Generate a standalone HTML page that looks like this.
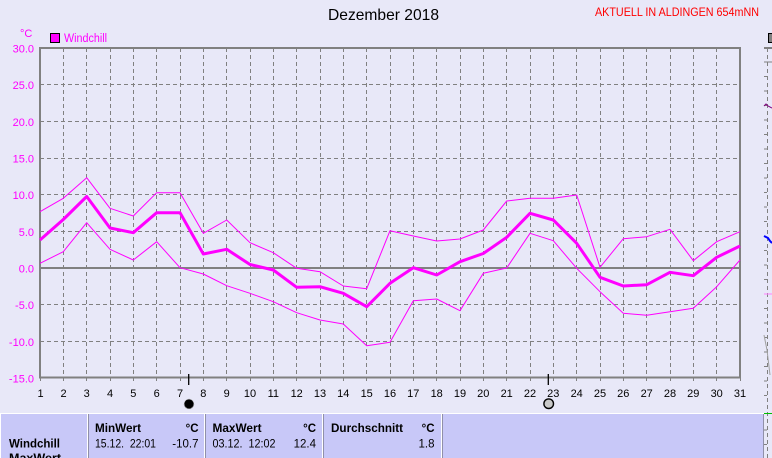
<!DOCTYPE html>
<html><head><meta charset="utf-8"><style>
html,body{margin:0;padding:0;background:#e8e8f8;}
svg{display:block;}
text{font-family:"Liberation Sans",sans-serif;}
</style></head><body>
<svg width="772" height="458" viewBox="0 0 772 458" xmlns="http://www.w3.org/2000/svg">
<rect x="0" y="0" width="772" height="458" fill="#e8e8f8"/>

<!-- title -->
<text x="328" y="20" font-size="16" textLength="111" lengthAdjust="spacingAndGlyphs" fill="#000">Dezember 2018</text>
<text x="595" y="16" font-size="12" textLength="164" lengthAdjust="spacingAndGlyphs" fill="#ff0000">AKTUELL IN ALDINGEN 654mNN</text>

<!-- unit + legend -->
<text x="20" y="37" font-size="11" fill="#ff00ff">°C</text>
<rect x="50.5" y="33.5" width="9" height="9" fill="#ff00ff" stroke="#000" stroke-width="1"/>
<text x="64" y="42" font-size="11.5" textLength="43" lengthAdjust="spacingAndGlyphs" fill="#ff00ff">Windchill</text>

<!-- grid -->
<g stroke="#808080" stroke-width="1" stroke-dasharray="4,3" shape-rendering="crispEdges">
<line x1="40" y1="84.5" x2="740" y2="84.5"/>
<line x1="40" y1="121.5" x2="740" y2="121.5"/>
<line x1="40" y1="158.5" x2="740" y2="158.5"/>
<line x1="40" y1="194.5" x2="740" y2="194.5"/>
<line x1="40" y1="231.5" x2="740" y2="231.5"/>
<line x1="40" y1="304.5" x2="740" y2="304.5"/>
<line x1="40" y1="341.5" x2="740" y2="341.5"/>
<line x1="63.5" y1="48" x2="63.5" y2="377"/>
<line x1="86.5" y1="48" x2="86.5" y2="377"/>
<line x1="110.5" y1="48" x2="110.5" y2="377"/>
<line x1="133.5" y1="48" x2="133.5" y2="377"/>
<line x1="156.5" y1="48" x2="156.5" y2="377"/>
<line x1="180.5" y1="48" x2="180.5" y2="377"/>
<line x1="203.5" y1="48" x2="203.5" y2="377"/>
<line x1="226.5" y1="48" x2="226.5" y2="377"/>
<line x1="250.5" y1="48" x2="250.5" y2="377"/>
<line x1="273.5" y1="48" x2="273.5" y2="377"/>
<line x1="296.5" y1="48" x2="296.5" y2="377"/>
<line x1="320.5" y1="48" x2="320.5" y2="377"/>
<line x1="343.5" y1="48" x2="343.5" y2="377"/>
<line x1="366.5" y1="48" x2="366.5" y2="377"/>
<line x1="390.5" y1="48" x2="390.5" y2="377"/>
<line x1="413.5" y1="48" x2="413.5" y2="377"/>
<line x1="436.5" y1="48" x2="436.5" y2="377"/>
<line x1="460.5" y1="48" x2="460.5" y2="377"/>
<line x1="483.5" y1="48" x2="483.5" y2="377"/>
<line x1="506.5" y1="48" x2="506.5" y2="377"/>
<line x1="530.5" y1="48" x2="530.5" y2="377"/>
<line x1="553.5" y1="48" x2="553.5" y2="377"/>
<line x1="576.5" y1="48" x2="576.5" y2="377"/>
<line x1="600.5" y1="48" x2="600.5" y2="377"/>
<line x1="623.5" y1="48" x2="623.5" y2="377"/>
<line x1="646.5" y1="48" x2="646.5" y2="377"/>
<line x1="670.5" y1="48" x2="670.5" y2="377"/>
<line x1="693.5" y1="48" x2="693.5" y2="377"/>
<line x1="716.5" y1="48" x2="716.5" y2="377"/>
</g>

<!-- zero line + frame -->
<g stroke="#808080" shape-rendering="crispEdges">
<line x1="40" y1="268" x2="740" y2="268" stroke-width="2"/>
<rect x="40" y="48" width="700" height="329.5" fill="none" stroke-width="2"/>
</g>
<!-- x ticks -->
<g stroke="#808080" stroke-width="1" shape-rendering="crispEdges">
<line x1="40.5" y1="378" x2="40.5" y2="381"/><line x1="63.5" y1="378" x2="63.5" y2="381"/><line x1="86.5" y1="378" x2="86.5" y2="381"/><line x1="110.5" y1="378" x2="110.5" y2="381"/><line x1="133.5" y1="378" x2="133.5" y2="381"/><line x1="156.5" y1="378" x2="156.5" y2="381"/><line x1="180.5" y1="378" x2="180.5" y2="381"/><line x1="203.5" y1="378" x2="203.5" y2="381"/><line x1="226.5" y1="378" x2="226.5" y2="381"/><line x1="250.5" y1="378" x2="250.5" y2="381"/><line x1="273.5" y1="378" x2="273.5" y2="381"/><line x1="296.5" y1="378" x2="296.5" y2="381"/><line x1="320.5" y1="378" x2="320.5" y2="381"/><line x1="343.5" y1="378" x2="343.5" y2="381"/><line x1="366.5" y1="378" x2="366.5" y2="381"/><line x1="390.5" y1="378" x2="390.5" y2="381"/><line x1="413.5" y1="378" x2="413.5" y2="381"/><line x1="436.5" y1="378" x2="436.5" y2="381"/><line x1="460.5" y1="378" x2="460.5" y2="381"/><line x1="483.5" y1="378" x2="483.5" y2="381"/><line x1="506.5" y1="378" x2="506.5" y2="381"/><line x1="530.5" y1="378" x2="530.5" y2="381"/><line x1="553.5" y1="378" x2="553.5" y2="381"/><line x1="576.5" y1="378" x2="576.5" y2="381"/><line x1="600.5" y1="378" x2="600.5" y2="381"/><line x1="623.5" y1="378" x2="623.5" y2="381"/><line x1="646.5" y1="378" x2="646.5" y2="381"/><line x1="670.5" y1="378" x2="670.5" y2="381"/><line x1="693.5" y1="378" x2="693.5" y2="381"/><line x1="716.5" y1="378" x2="716.5" y2="381"/><line x1="740.5" y1="378" x2="740.5" y2="381"/>
</g>

<!-- y labels -->
<g font-size="11" fill="#ff00ff" text-anchor="end">
<text x="34" y="52.5">30.0</text>
<text x="34" y="89">25.0</text>
<text x="34" y="126">20.0</text>
<text x="34" y="162.5">15.0</text>
<text x="34" y="199">10.0</text>
<text x="34" y="236">5.0</text>
<text x="34" y="272.5">0.0</text>
<text x="34" y="309">-5.0</text>
<text x="34" y="346">-10.0</text>
<text x="34" y="382.5">-15.0</text>
</g>

<!-- x labels -->
<g font-size="11" fill="#000" text-anchor="middle">
<text x="40.5" y="397">1</text><text x="63.5" y="397">2</text><text x="86.7" y="397">3</text><text x="110" y="397">4</text><text x="133.3" y="397">5</text><text x="156.7" y="397">6</text><text x="180" y="397">7</text><text x="203.3" y="397">8</text><text x="226.7" y="397">9</text><text x="250" y="397">10</text><text x="273.3" y="397">11</text><text x="296.7" y="397">12</text><text x="320" y="397">13</text><text x="343.3" y="397">14</text><text x="366.7" y="397">15</text><text x="390" y="397">16</text><text x="413.3" y="397">17</text><text x="436.7" y="397">18</text><text x="460" y="397">19</text><text x="483.3" y="397">20</text><text x="506.7" y="397">21</text><text x="530" y="397">22</text><text x="553.3" y="397">23</text><text x="576.7" y="397">24</text><text x="600" y="397">25</text><text x="623.3" y="397">26</text><text x="646.7" y="397">27</text><text x="670" y="397">28</text><text x="693.3" y="397">29</text><text x="716.7" y="397">30</text><text x="740" y="397">31</text>
</g>

<!-- series -->
<g fill="none" stroke="#ff00ff" stroke-linejoin="round">
<polyline stroke-width="1" points="40,211.7 63.3,198.3 86.7,177.7 110,208.3 133.3,216 156.7,192.7 180,192.7 203.3,233.3 226.7,220 250,242.7 273.3,252.7 296.7,268.3 320,271.7 343.3,286 366.7,288.7 390,230.7 413.3,236 436.7,241 460,239 483.3,230 506.7,201 530,198.3 553.3,198.3 576.7,195 600,267.3 623.3,238.7 646.7,236.7 670,229.3 693.3,260.7 716.7,241.7 740,231.7"/>
<polyline stroke-width="1" points="40,263.3 63.3,251.7 86.7,222.7 110,249.3 133.3,260 156.7,241.7 180,267.7 203.3,274 226.7,285.7 250,293.3 273.3,301.7 296.7,312.7 320,320 343.3,324 366.7,345.7 390,342.3 413.3,300.7 436.7,299 460,310.7 483.3,273.3 506.7,268 530,233.3 553.3,240.7 576.7,268.3 600,291.7 623.3,313.3 646.7,315.3 670,311.7 693.3,308.3 716.7,286.7 740,260"/>
<polyline stroke-width="3" points="40,240 63.3,219.5 86.7,196.5 110,228 133.3,232.7 156.7,212.7 180,212.7 203.3,254 226.7,249.3 250,264.5 273.3,270 296.7,287.3 320,286.7 343.3,293.3 366.7,306.7 390,283.3 413.3,267.7 436.7,275 460,261.7 483.3,253.5 506.7,237.3 530,213.3 553.3,220 576.7,243.3 600,277.3 623.3,286 646.7,284.7 670,272.3 693.3,275.7 716.7,257.3 740,246"/>
</g>

<!-- moon markers -->
<line x1="188.7" y1="374" x2="188.7" y2="385" stroke="#000" stroke-width="1.3"/>
<circle cx="189" cy="404" r="4.8" fill="#000" stroke="#999" stroke-width="0.8" stroke-dasharray="1,1"/>
<line x1="548.3" y1="374" x2="548.3" y2="385" stroke="#000" stroke-width="1.3"/>
<circle cx="548.7" cy="403.7" r="4.8" fill="#c8c8c8" stroke="#000" stroke-width="1.4"/>

<!-- right partial chart -->
<rect x="768.5" y="33.5" width="4" height="9" fill="#808080" stroke="#000" stroke-width="1"/>
<line x1="764" y1="48" x2="772" y2="48" stroke="#808080" stroke-width="2"/>
<line x1="767.5" y1="48" x2="767.5" y2="458" stroke="#808080" stroke-width="1" stroke-dasharray="4,3"/>
<g stroke="#808080" stroke-width="1" shape-rendering="crispEdges">
<line x1="764" y1="62" x2="772" y2="62"/>
<line x1="764" y1="76.5" x2="767" y2="76.5"/><line x1="764" y1="91" x2="767" y2="91"/><line x1="764" y1="105.5" x2="767" y2="105.5"/><line x1="764" y1="120" x2="767" y2="120"/><line x1="764" y1="134.5" x2="767" y2="134.5"/><line x1="764" y1="149" x2="767" y2="149"/><line x1="764" y1="163.5" x2="767" y2="163.5"/><line x1="764" y1="178" x2="767" y2="178"/><line x1="764" y1="192.5" x2="767" y2="192.5"/><line x1="764" y1="207" x2="767" y2="207"/><line x1="764" y1="221.5" x2="767" y2="221.5"/><line x1="764" y1="250.5" x2="767" y2="250.5"/><line x1="764" y1="265" x2="767" y2="265"/><line x1="764" y1="279.5" x2="767" y2="279.5"/><line x1="764" y1="308.5" x2="767" y2="308.5"/><line x1="764" y1="323" x2="767" y2="323"/><line x1="764" y1="337.5" x2="767" y2="337.5"/><line x1="764" y1="352" x2="767" y2="352"/><line x1="764" y1="366.5" x2="767" y2="366.5"/><line x1="764" y1="381" x2="767" y2="381"/><line x1="764" y1="395.5" x2="767" y2="395.5"/><line x1="764" y1="430" x2="767" y2="430"/><line x1="764" y1="444.5" x2="767" y2="444.5"/>
</g>
<polyline points="764,106 766,104 768,106 772,108" fill="none" stroke="#800080" stroke-width="1"/>
<polyline points="764,236 766,237 768,238 770,241 772,243" fill="none" stroke="#0000ff" stroke-width="2"/>
<line x1="764" y1="294" x2="772" y2="294" stroke="#ff80ff" stroke-width="1"/>
<polyline points="764,335 767,350 770,375" fill="none" stroke="#a0a0a0" stroke-width="1"/>
<line x1="764" y1="413.5" x2="772" y2="413.5" stroke="#00c000" stroke-width="1"/>

<!-- table -->
<rect x="0" y="413" width="764" height="45" fill="#c8c8f8"/>
<line x1="0" y1="413.5" x2="764" y2="413.5" stroke="#ffffff" stroke-width="1"/>
<line x1="0.5" y1="413" x2="0.5" y2="458" stroke="#ffffff" stroke-width="1"/>
<g stroke-width="1" shape-rendering="crispEdges">
<line x1="87.5" y1="414" x2="87.5" y2="458" stroke="#ffffff"/><line x1="88.5" y1="414" x2="88.5" y2="458" stroke="#9090a8"/>
<line x1="204.5" y1="414" x2="204.5" y2="458" stroke="#ffffff"/><line x1="205.5" y1="414" x2="205.5" y2="458" stroke="#9090a8"/>
<line x1="322.5" y1="414" x2="322.5" y2="458" stroke="#ffffff"/><line x1="323.5" y1="414" x2="323.5" y2="458" stroke="#9090a8"/>
<line x1="441.5" y1="414" x2="441.5" y2="458" stroke="#ffffff"/><line x1="442.5" y1="414" x2="442.5" y2="458" stroke="#9090a8"/>
<line x1="763.5" y1="414" x2="763.5" y2="458" stroke="#9090a8"/>
</g>
<g fill="#000">
<text x="9" y="447.5" font-size="11.5" font-weight="bold" textLength="51" lengthAdjust="spacingAndGlyphs">Windchill</text>
<text x="9" y="462" font-size="11.5" font-weight="bold" textLength="52" lengthAdjust="spacingAndGlyphs">MaxWert</text>
<text x="95" y="432" font-size="11.5" font-weight="bold" textLength="46" lengthAdjust="spacingAndGlyphs">MinWert</text>
<text x="198.5" y="432" font-size="11.5" font-weight="bold" text-anchor="end">°C</text>
<text x="95" y="447.5" font-size="11.5" textLength="61" lengthAdjust="spacingAndGlyphs" xml:space="preserve">15.12.  22:01</text>
<text x="198.5" y="447.5" font-size="11.5" text-anchor="end">-10.7</text>
<text x="212.5" y="432" font-size="11.5" font-weight="bold" textLength="49" lengthAdjust="spacingAndGlyphs">MaxWert</text>
<text x="316" y="432" font-size="11.5" font-weight="bold" text-anchor="end">°C</text>
<text x="212.5" y="447.5" font-size="11.5" textLength="63" lengthAdjust="spacingAndGlyphs" xml:space="preserve">03.12.  12:02</text>
<text x="316" y="447.5" font-size="11.5" text-anchor="end">12.4</text>
<text x="331" y="432" font-size="11.5" font-weight="bold" textLength="72" lengthAdjust="spacingAndGlyphs">Durchschnitt</text>
<text x="434.5" y="432" font-size="11.5" font-weight="bold" text-anchor="end">°C</text>
<text x="434.5" y="447.5" font-size="11.5" text-anchor="end">1.8</text>
</g>
</svg>
</body></html>
